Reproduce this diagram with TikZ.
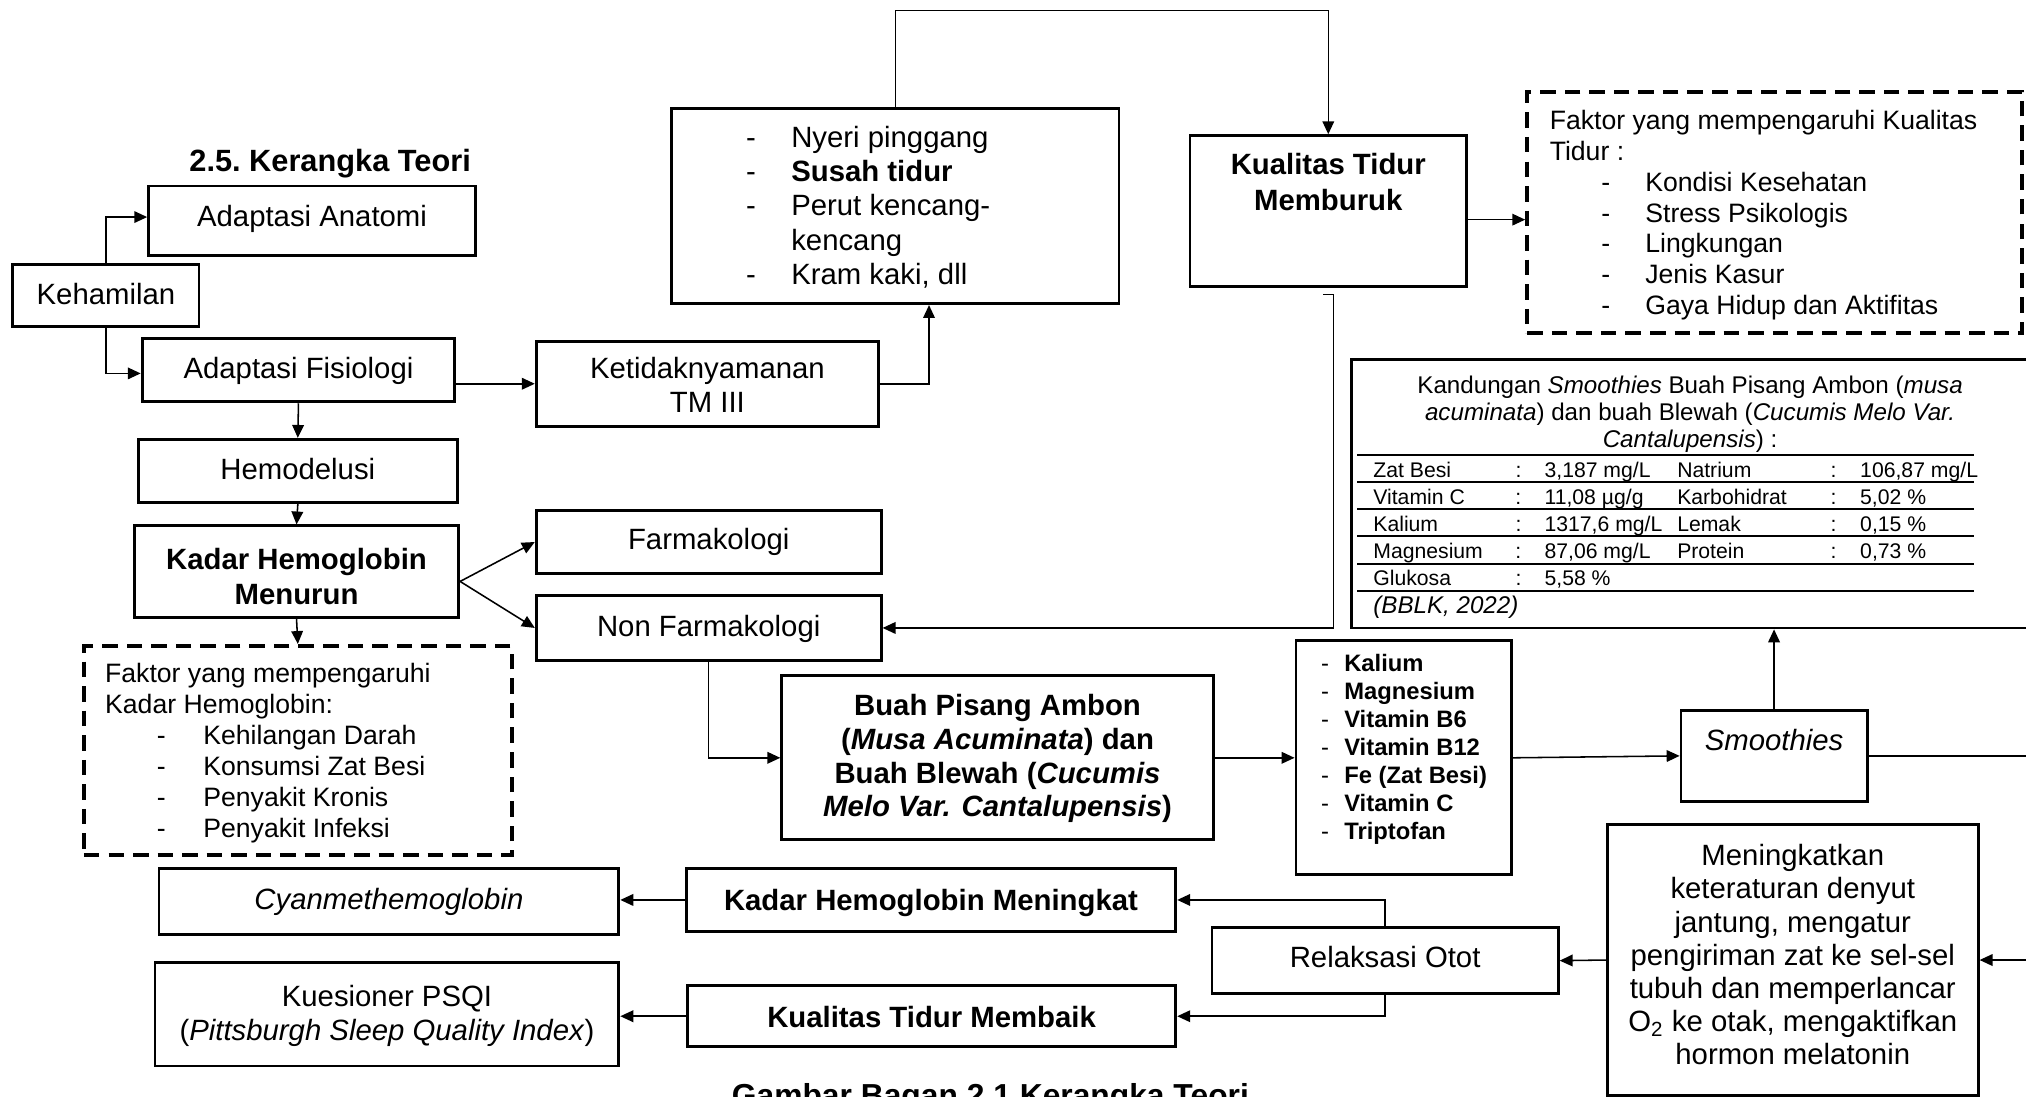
\documentclass[tikz,border=0pt]{standalone}
\usepackage{fontspec}
\setmainfont{Liberation Sans}
\usetikzlibrary{fit,arrows.meta}
\newcommand\fsmain{\fontsize{11.35pt}{13pt}\selectfont}
\newcommand\fsdash{\fontsize{10.3pt}{12pt}\selectfont}
\newcommand\fsnut{\fontsize{9.2pt}{10.85pt}\selectfont}
\newcommand\fshead{\fontsize{9.35pt}{10.5pt}\selectfont}
\newcommand\fsrow{\fontsize{8.2pt}{10pt}\selectfont}
\newcommand\fstitle{\fontsize{11.9pt}{14pt}\selectfont\bfseries}
\newcommand\trow[6]{\makebox[55pt][l]{#1}\makebox[11.25pt][l]{#2}\makebox[51.35pt][l]{#3}\makebox[59.35pt][l]{#4}\makebox[11.45pt][l]{#5}#6}
\tikzset{
 box/.style={draw, line width=1.1pt, inner sep=0pt},
 dbox/.style={draw, line width=1.6pt, dash pattern=on 6pt off 3.5pt, inner sep=0pt},
 arr/.style={line width=0.6pt, -{Triangle[length=5pt,width=4.5pt]}},
 txt/.style={inner sep=0pt, font=\fsmain},
 ctxt/.style={inner sep=0pt, anchor=base},
 tabrule/.style={line width=0.9pt},
}
\begin{document}
\begin{tikzpicture}[x=0.5pt,y=-0.5pt]
\useasboundingbox (0,0) rectangle (1568,849);
\fill[white] (0,0) rectangle (1568,849);
\clip (0,0) rectangle (1568,849);

% title
\node[txt, anchor=base, font=\fstitle] (title) at (255.5,132.5) {2.5.\ Kerangka Teori};

% left column
\node[box, fit={(115,144) (368,198)}] (anat) {};
\node[txt, ctxt] (anat-t) at (241.5,175) {Adaptasi Anatomi};
\node[box, fit={(10,205) (154,253)}] (keh) {};
\node[txt, ctxt] (keh-t) at (82,236) {Kehamilan};
\node[box, fit={(110,262) (352,311)}] (fis) {};
\node[txt, ctxt] (fis-t) at (231,293) {Adaptasi Fisiologi};
\node[box, fit={(107,340) (354,389)}] (hemo) {};
\node[txt, ctxt] (hemo-t) at (230.5,371) {Hemodelusi};
\node[box, fit={(104,407) (355,478)}] (kmen) {};
\node[txt, ctxt, font=\fontsize{11.35pt}{13.5pt}\selectfont\bfseries] (kmen-t) at (229.5,441) {\begin{tabular}[t]{@{}c@{}}Kadar Hemoglobin\\Menurun\end{tabular}};
\node[dbox, fit={(65,500) (396,662)}] (fhb) {};
\node[txt, anchor=base west, font=\fsdash] (fhbt) at (81,528.5) {\begin{tabular}[t]{@{}p{20pt}@{}p{18pt}@{}l@{}}
\multicolumn{3}{@{}l@{}}{Faktor yang mempengaruhi}\\
\multicolumn{3}{@{}l@{}}{Kadar Hemoglobin:}\\
 & - & Kehilangan Darah\\
 & - & Konsumsi Zat Besi\\
 & - & Penyakit Kronis\\
 & - & Penyakit Infeksi
\end{tabular}};

% middle
\node[box, fit={(415,264) (680,330)}] (ket) {};
\node[txt, ctxt] (ket-t) at (547.5,293) {\begin{tabular}[t]{@{}c@{}}Ketidaknyamanan\\TM III\end{tabular}};
\node[box, fit={(415,395) (682,444)}] (farm) {};
\node[txt, ctxt] (farm-t) at (548.5,425) {Farmakologi};
\node[box, fit={(415,461) (682,511)}] (nfarm) {};
\node[txt, ctxt] (nfarm-t) at (548.5,493) {Non Farmakologi};
\node[box, fit={(520,84) (866,235)}] (nyeri) {};
\node[txt, anchor=base west, font=\fontsize{11.35pt}{13.25pt}\selectfont] (nyerit) at (577,114) {\begin{tabular}[t]{@{}p{17.5pt}@{}l@{}}
- & Nyeri pinggang\\
- & \textbf{Susah tidur}\\
- & Perut kencang-\\
 & kencang\\
- & Kram kaki, dll
\end{tabular}};

\node[box, fit={(921,105) (1135,222)}] (kmem) {};
\node[txt, anchor=base, font=\fontsize{11.35pt}{14pt}\selectfont\bfseries] (kmemt) at (1028,135) {\begin{tabular}[t]{@{}c@{}}Kualitas Tidur\\Memburuk\end{tabular}};

\node[dbox, fit={(1182,71) (1565,258)}] (fkt) {};
\node[txt, anchor=base west, font=\fontsize{10.3pt}{11.9pt}\selectfont] (fktt) at (1199,100.5) {\begin{tabular}[t]{@{}p{20pt}@{}p{17pt}@{}l@{}}
\multicolumn{3}{@{}l@{}}{Faktor yang mempengaruhi Kualitas}\\
\multicolumn{3}{@{}l@{}}{Tidur :}\\
 & - & Kondisi Kesehatan\\
 & - & Stress Psikologis\\
 & - & Lingkungan\\
 & - & Jenis Kasur\\
 & - & Gaya Hidup dan Aktifitas
\end{tabular}};

% Kandungan table
\node[box, fit={(1046,278) (1585,486)}] (kand) {};
\node[txt, anchor=base, font=\fshead] (kandh) at (1308,304.5) {\begin{tabular}[t]{@{}c@{}}
Kandungan \textit{Smoothies} Buah Pisang Ambon (\textit{musa}\\
\textit{acuminata}) dan buah Blewah (\textit{Cucumis Melo Var.}\\
\textit{Cantalupensis}) :
\end{tabular}};
\foreach \yy in {352,373,394,415,436.5,457.4}{\draw[tabrule] (1050.6,\yy) -- (1527.8,\yy);}
\node[txt, anchor=base west, font=\fsrow] (row1) at (1062.5,369.5) {\trow{Zat Besi}{:}{3,187 mg/L}{Natrium}{:}{106,87 mg/L}};
\node[txt, anchor=base west, font=\fsrow] (row2) at (1062.5,390.5) {\trow{Vitamin C}{:}{11,08 µg/g}{Karbohidrat}{:}{5,02 \%}};
\node[txt, anchor=base west, font=\fsrow] (row3) at (1062.5,411.5) {\trow{Kalium}{:}{1317,6 mg/L}{Lemak}{:}{0,15 \%}};
\node[txt, anchor=base west, font=\fsrow] (row4) at (1062.5,432.5) {\trow{Magnesium}{:}{87,06 mg/L}{Protein}{:}{0,73 \%}};
\node[txt, anchor=base west, font=\fsrow] (row5) at (1062.5,453.5) {\trow{Glukosa}{:}{5,58 \%}{}{}{}};
\node[txt, anchor=base west, font=\fshead] (bblk) at (1062.5,474.5) {\textit{(BBLK, 2022)}};

% lower middle
\node[box, fit={(605,523) (939,650)}] (buah) {};
\node[txt, ctxt, font=\fsmain\bfseries] (buah-t) at (772,554) {\begin{tabular}[t]{@{}c@{}}Buah Pisang Ambon\\(\textit{Musa Acuminata}) dan\\Buah Blewah (\textit{Cucumis}\\\textit{Melo Var. Cantalupensis})\end{tabular}};
\node[box, fit={(1003,496) (1170,677)}] (nut) {};
\node[txt, anchor=base west, font=\fsnut] (nutt) at (1022,519.5) {\begin{tabular}[t]{@{}p{9pt}@{}l@{}}
- & \textbf{Kalium}\\
- & \textbf{Magnesium}\\
- & \textbf{Vitamin B6}\\
- & \textbf{Vitamin B12}\\
- & \textbf{Fe (Zat Besi)}\\
- & \textbf{Vitamin C}\\
- & \textbf{Triptofan}
\end{tabular}};
\node[box, fit={(1301,550) (1445,620)}] (smo) {};
\node[txt, anchor=base] (smot) at (1373,581) {\textit{Smoothies}};
\node[box, fit={(1244,638) (1531,848)}] (men) {};
\node[txt, ctxt, font=\fontsize{11.35pt}{12.85pt}\selectfont] (men-t) at (1387.5,670) {\begin{tabular}[t]{@{}c@{}}Meningkatkan\\keteraturan denyut\\jantung, mengatur\\pengiriman zat ke sel-sel\\tubuh dan memperlancar\\O\textsubscript{2} ke otak, mengaktifkan\\hormon melatonin\end{tabular}};
\node[box, fit={(938,718) (1206,769)}] (rel) {};
\node[txt, ctxt] (rel-t) at (1072,749) {Relaksasi Otot};
\node[box, fit={(531,672) (910,721)}] (kmn) {};
\node[txt, ctxt, font=\fsmain\bfseries] (kmn-t) at (720.5,705) {Kadar Hemoglobin Meningkat};
\node[box, fit={(532,763) (910,810)}] (kmb) {};
\node[txt, ctxt, font=\fsmain\bfseries] (kmb-t) at (721,795) {Kualitas Tidur Membaik};
\node[box, fit={(123,672) (479,723)}] (cyan) {};
\node[txt, ctxt] (cyan-t) at (301,704) {\textit{Cyanmethemoglobin}};
\node[box, fit={(120,745) (479,825)}] (kues) {};
\node[txt, ctxt] (kues-t) at (299.5,779) {\begin{tabular}[t]{@{}c@{}}Kuesioner PSQI\\(\textit{Pittsburgh Sleep Quality Index})\end{tabular}};

% caption
\node[txt, anchor=base, font=\fontsize{12.3pt}{14pt}\selectfont\bfseries] (cap) at (766.5,856) {Gambar Bagan 2.1 Kerangka Teori};

% helper coordinates
\coordinate (ytop) at (0,8);
\coordinate (tk1) at (1024,228);
\coordinate (tk2) at (1032,228);
\coordinate (offr) at (1600,0);

% connectors
\draw[arr] (keh.north) |- ([yshift=1.5pt]anat.west);
\draw[arr] (keh.south) |- ([yshift=-1.25pt]fis.west);
\draw[arr] (fis.east |- ket.west) -- (ket.west);
\draw[arr] (fis.south) -- (hemo.north);
\draw[arr] (hemo.south) -- (kmen.north);
\draw[arr] ([yshift=-3.75pt]kmen.east) -- (farm.west);
\draw[arr] ([yshift=-3.75pt]kmen.east) -- (nfarm.west);
\draw[arr] (kmen.south) -- (fhb.north);
\draw[arr] (ket.east) -| ([xshift=13pt]nyeri.south);
\draw[arr] (nyeri.north) -- (nyeri.north |- ytop) -| (kmem.north);
\draw[arr] ([yshift=-3.25pt]kmem.east) -- ([yshift=-3.25pt]kmem.east -| fkt.west);
\draw[arr] (tk1) -- (tk2) |- (nfarm.east);
\draw[arr] (nfarm.south) |- (buah.west);
\draw[arr] (buah.east) -- (nut.west);
\draw[arr] (nut.east) -- (smo.west);
\draw[arr] (smo.north) -- (smo.north |- kand.south);
\draw[arr] (smo.east) -- (smo.east -| offr) |- (men.east);
\draw[arr] (men.west) -- (rel.east);
\draw[arr] (rel.north) |- (kmn.east);
\draw[arr] (rel.south) |- (kmb.east);
\draw[arr] (kmn.west) -- (kmn.west -| cyan.east);
\draw[arr] (kmb.west) -- (kmb.west -| kues.east);
\end{tikzpicture}
\end{document}
